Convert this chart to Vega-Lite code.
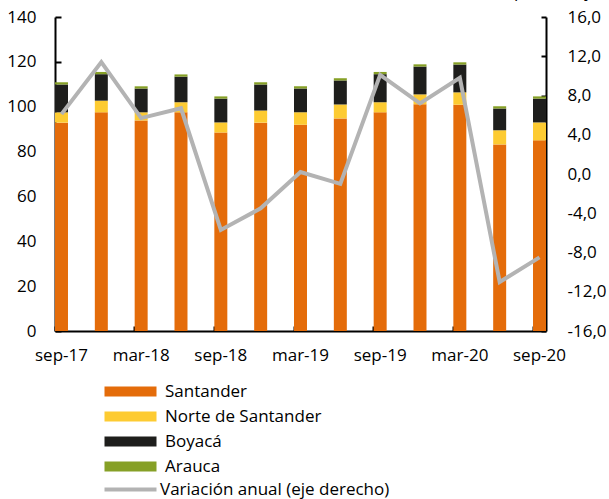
{
  "$schema": "https://vega.github.io/schema/vega-lite/v6.json",
  "width": 491,
  "height": 314,
  "autosize": {"type": "none"},
  "padding": {"left": 55, "top": 17, "right": 63, "bottom": 168},
  "background": "white",
  "config": {
    "view": {"stroke": null},
    "font": "Open Sans",
    "axis": {
      "labelFont": "Open Sans", "labelFontSize": 17, "labelColor": "#000",
      "domainColor": "#000", "tickColor": "#000", "domainWidth": 2, "tickWidth": 2,
      "grid": false, "titleFont": "Open Sans"
    },
    "legend": {
      "labelFont": "Open Sans", "labelFontSize": 17, "labelColor": "#000",
      "padding": 0, "rowPadding": 7, "title": null, "labelLimit": 400
    }
  },
  "datasets": {
    "barras": [
      {"fecha": "sep-17", "departamento": "Santander", "valor": 92.9},
      {"fecha": "sep-17", "departamento": "Norte de Santander", "valor": 4.6},
      {"fecha": "sep-17", "departamento": "Boyacá", "valor": 12.4},
      {"fecha": "sep-17", "departamento": "Arauca", "valor": 1.0},
      {"fecha": "dic-17", "departamento": "Santander", "valor": 97.5},
      {"fecha": "dic-17", "departamento": "Norte de Santander", "valor": 5.2},
      {"fecha": "dic-17", "departamento": "Boyacá", "valor": 11.8},
      {"fecha": "dic-17", "departamento": "Arauca", "valor": 1.0},
      {"fecha": "mar-18", "departamento": "Santander", "valor": 93.9},
      {"fecha": "mar-18", "departamento": "Norte de Santander", "valor": 3.6},
      {"fecha": "mar-18", "departamento": "Boyacá", "valor": 10.6},
      {"fecha": "mar-18", "departamento": "Arauca", "valor": 1.0},
      {"fecha": "jun-18", "departamento": "Santander", "valor": 97.5},
      {"fecha": "jun-18", "departamento": "Norte de Santander", "valor": 4.5},
      {"fecha": "jun-18", "departamento": "Boyacá", "valor": 11.4},
      {"fecha": "jun-18", "departamento": "Arauca", "valor": 1.0},
      {"fecha": "sep-18", "departamento": "Santander", "valor": 88.5},
      {"fecha": "sep-18", "departamento": "Norte de Santander", "valor": 4.5},
      {"fecha": "sep-18", "departamento": "Boyacá", "valor": 10.6},
      {"fecha": "sep-18", "departamento": "Arauca", "valor": 1.0},
      {"fecha": "dic-18", "departamento": "Santander", "valor": 92.9},
      {"fecha": "dic-18", "departamento": "Norte de Santander", "valor": 5.4},
      {"fecha": "dic-18", "departamento": "Boyacá", "valor": 11.6},
      {"fecha": "dic-18", "departamento": "Arauca", "valor": 1.0},
      {"fecha": "mar-19", "departamento": "Santander", "valor": 92.0},
      {"fecha": "mar-19", "departamento": "Norte de Santander", "valor": 5.5},
      {"fecha": "mar-19", "departamento": "Boyacá", "valor": 10.6},
      {"fecha": "mar-19", "departamento": "Arauca", "valor": 1.0},
      {"fecha": "jun-19", "departamento": "Santander", "valor": 94.8},
      {"fecha": "jun-19", "departamento": "Norte de Santander", "valor": 6.2},
      {"fecha": "jun-19", "departamento": "Boyacá", "valor": 10.7},
      {"fecha": "jun-19", "departamento": "Arauca", "valor": 1.0},
      {"fecha": "sep-19", "departamento": "Santander", "valor": 97.5},
      {"fecha": "sep-19", "departamento": "Norte de Santander", "valor": 4.5},
      {"fecha": "sep-19", "departamento": "Boyacá", "valor": 12.5},
      {"fecha": "sep-19", "departamento": "Arauca", "valor": 1.0},
      {"fecha": "dic-19", "departamento": "Santander", "valor": 101.1},
      {"fecha": "dic-19", "departamento": "Norte de Santander", "valor": 4.4},
      {"fecha": "dic-19", "departamento": "Boyacá", "valor": 12.4},
      {"fecha": "dic-19", "departamento": "Arauca", "valor": 1.0},
      {"fecha": "mar-20", "departamento": "Santander", "valor": 100.9},
      {"fecha": "mar-20", "departamento": "Norte de Santander", "valor": 5.5},
      {"fecha": "mar-20", "departamento": "Boyacá", "valor": 12.4},
      {"fecha": "mar-20", "departamento": "Arauca", "valor": 1.0},
      {"fecha": "jun-20", "departamento": "Santander", "valor": 83.2},
      {"fecha": "jun-20", "departamento": "Norte de Santander", "valor": 6.3},
      {"fecha": "jun-20", "departamento": "Boyacá", "valor": 9.7},
      {"fecha": "jun-20", "departamento": "Arauca", "valor": 1.0},
      {"fecha": "sep-20", "departamento": "Santander", "valor": 85.0},
      {"fecha": "sep-20", "departamento": "Norte de Santander", "valor": 8.0},
      {"fecha": "sep-20", "departamento": "Boyacá", "valor": 10.6},
      {"fecha": "sep-20", "departamento": "Arauca", "valor": 1.0}
    ],
    "variacion": [
      {"fecha": "sep-17", "variacion": 6.1},
      {"fecha": "dic-17", "variacion": 11.4},
      {"fecha": "mar-18", "variacion": 5.7},
      {"fecha": "jun-18", "variacion": 6.7},
      {"fecha": "sep-18", "variacion": -5.7},
      {"fecha": "dic-18", "variacion": -3.5},
      {"fecha": "mar-19", "variacion": 0.2},
      {"fecha": "jun-19", "variacion": -1.0},
      {"fecha": "sep-19", "variacion": 10.1},
      {"fecha": "dic-19", "variacion": 7.2},
      {"fecha": "mar-20", "variacion": 9.8},
      {"fecha": "jun-20", "variacion": -11.0},
      {"fecha": "sep-20", "variacion": -8.5}
    ]
  },
  "encoding": {
    "x": {
      "field": "fecha", "type": "nominal",
      "sort": ["sep-17","dic-17","mar-18","jun-18","sep-18","dic-18","mar-19","jun-19","sep-19","dic-19","mar-20","jun-20","sep-20"],
      "scale": {"paddingInner": 0.674, "paddingOuter": 0},
      "axis": {
        "values": ["sep-17","mar-18","sep-18","mar-19","sep-19","mar-20","sep-20"],
        "bandPosition": 0, "labelOffset": 0, "tickSize": -5,
        "labelPadding": 21, "labelAngle": 0, "title": null
      }
    }
  },
  "layer": [
    {
      "data": {"name": "barras"},
      "mark": {"type": "bar"},
      "encoding": {
        "y": {
          "field": "valor", "type": "quantitative", "stack": "zero",
          "scale": {"domain": [0, 140], "nice": false},
          "axis": {"values": [0,20,40,60,80,100,120,140], "tickSize": -6, "labelPadding": 25, "title": null, "format": "d"}
        },
        "color": {
          "field": "departamento", "type": "nominal",
          "sort": ["Santander", "Norte de Santander", "Boyacá", "Arauca"],
          "scale": {"domain": ["Santander", "Norte de Santander", "Boyacá", "Arauca"], "range": ["#E46C0A", "#FDCB32", "#1E1E1C", "#86A026"]},
          "legend": {
            "orient": "none", "legendX": 49, "legendY": 366, "direction": "vertical",
            "symbolType": "M-5.2,-1H5.2V1H-5.2Z", "symbolSize": 100, "symbolStrokeWidth": 0,
            "symbolOffset": 18, "labelOffset": 26, "title": null
          }
        }
      }
    },
    {
      "data": {"name": "variacion"},
      "mark": {"type": "line", "strokeWidth": 4, "strokeJoin": "miter"},
      "encoding": {
        "y": {
          "field": "variacion", "type": "quantitative",
          "scale": {"domain": [-16, 16], "nice": false},
          "axis": {
            "orient": "right", "values": [-16,-12,-8,-4,0,4,8,12,16],
            "labelExpr": "replace(replace(format(datum.value, '.1f'), '.', ','), '\u2212', '-')",
            "tickSize": -5, "labelPadding": 26,
            "title": "(porcentaje)", "titleAngle": 0, "titleX": 10, "titleY": -21,
            "titleAlign": "center", "titleBaseline": "alphabetic",
            "titleFontSize": 17, "titleFontWeight": "normal", "titleColor": "#000"
          }
        },
        "stroke": {
          "datum": "Variación anual (eje derecho)",
          "scale": {"range": ["#B3B3B3"]},
          "legend": {
            "orient": "none", "legendX": 49, "legendY": 464,
            "symbolType": "M-5.2,0H5.2", "symbolSize": 100, "symbolStrokeWidth": 4,
            "symbolOffset": 18, "labelOffset": 21, "title": null
          }
        }
      }
    }
  ],
  "resolve": {"scale": {"y": "independent"}}
}
